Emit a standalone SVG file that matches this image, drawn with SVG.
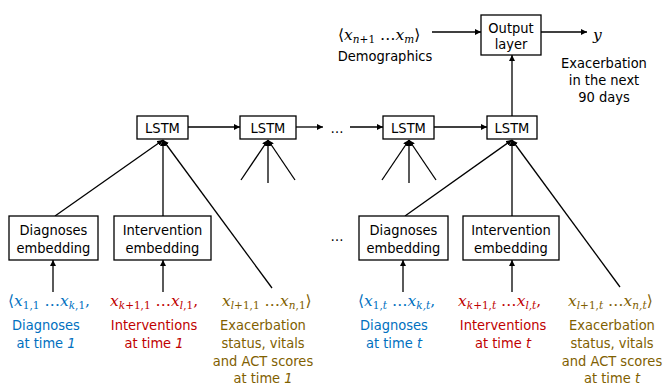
<svg xmlns="http://www.w3.org/2000/svg" width="668" height="386" viewBox="0 0 668 386">
<defs>
<marker id="ah" viewBox="0 0 10 10" refX="10" refY="5" markerWidth="6" markerHeight="6" markerUnits="userSpaceOnUse" orient="auto">
<path d="M0,0 L10,5 L0,10 z" fill="#000"/>
</marker>
<style>
.box{fill:#fff;stroke:#000;stroke-width:1.3}
.lbl{font-family:"DejaVu Sans Condensed","DejaVu Sans",sans-serif;font-stretch:condensed;font-size:14.5px;fill:#000;text-anchor:middle}
.t{font-family:"DejaVu Sans Condensed","DejaVu Sans",sans-serif;font-stretch:condensed;font-size:14.5px;text-anchor:middle}
.m{font-family:"DejaVu Serif","Liberation Serif",serif;font-size:15.5px}
.mi{font-style:italic}
.s{font-size:10.5px}
.edge{stroke:#000;stroke-width:1.3;fill:none}
.blue{fill:#0070C0}
.red{fill:#C00000}
.gold{fill:#7F6000}
</style>
</defs>
<g id="connectors">
<line class="edge" x1="188" y1="127" x2="240" y2="127" marker-end="url(#ah)"/>
<line class="edge" x1="296" y1="127" x2="323" y2="127" marker-end="url(#ah)"/>
<line class="edge" x1="350" y1="127" x2="383" y2="127" marker-end="url(#ah)"/>
<line class="edge" x1="434" y1="127" x2="487" y2="127" marker-end="url(#ah)"/>
<line class="edge" x1="512" y1="116" x2="512" y2="55" marker-end="url(#ah)"/>
<line class="edge" x1="432" y1="32" x2="481" y2="32" marker-end="url(#ah)"/>
<line class="edge" x1="541" y1="32" x2="587" y2="32" marker-end="url(#ah)"/>
<line class="edge" x1="55" y1="216" x2="163" y2="140" marker-end="url(#ah)"/>
<line class="edge" x1="163" y1="216" x2="163" y2="140" marker-end="url(#ah)"/>
<line class="edge" x1="272" y1="288" x2="163" y2="140" marker-end="url(#ah)"/>
<line class="edge" x1="241" y1="180" x2="268" y2="140" marker-end="url(#ah)"/>
<line class="edge" x1="268" y1="183" x2="268" y2="140" marker-end="url(#ah)"/>
<line class="edge" x1="295" y1="180" x2="268" y2="140" marker-end="url(#ah)"/>
<line class="edge" x1="382" y1="180" x2="409" y2="140" marker-end="url(#ah)"/>
<line class="edge" x1="409" y1="183" x2="409" y2="140" marker-end="url(#ah)"/>
<line class="edge" x1="436" y1="180" x2="409" y2="140" marker-end="url(#ah)"/>
<line class="edge" x1="405" y1="216" x2="512" y2="140" marker-end="url(#ah)"/>
<line class="edge" x1="512" y1="216" x2="512" y2="140" marker-end="url(#ah)"/>
<line class="edge" x1="620" y1="287" x2="512" y2="140" marker-end="url(#ah)"/>
<line class="edge" x1="53" y1="292" x2="53" y2="260" marker-end="url(#ah)"/>
<line class="edge" x1="163" y1="292" x2="163" y2="260" marker-end="url(#ah)"/>
<line class="edge" x1="403" y1="292" x2="403" y2="260" marker-end="url(#ah)"/>
<line class="edge" x1="512" y1="292" x2="512" y2="260" marker-end="url(#ah)"/>
</g>
<g id="lstm1"><rect class="box" x="137" y="116" width="51" height="23"/><text class="lbl" x="162.5" y="133">LSTM</text></g>
<g id="lstm2"><rect class="box" x="240" y="116" width="56" height="23"/><text class="lbl" x="268" y="133">LSTM</text></g>
<g id="lstm3"><rect class="box" x="383" y="116" width="51" height="23"/><text class="lbl" x="408.5" y="133">LSTM</text></g>
<g id="lstm4"><rect class="box" x="487" y="116" width="50" height="23"/><text class="lbl" x="512" y="133">LSTM</text></g>
<g id="dots1"><text class="lbl" x="337" y="133">…</text></g>
<g id="dots2"><text class="lbl" x="337" y="241">…</text></g>
<g id="output"><rect class="box" x="481" y="15" width="60" height="40"/><text class="lbl" x="511" y="33">Output</text><text class="lbl" x="511" y="49">layer</text></g>
<g id="diag1"><rect class="box" x="9" y="216" width="89" height="44"/><text class="lbl" x="53.5" y="235">Diagnoses</text><text class="lbl" x="53.5" y="253">embedding</text></g>
<g id="int1"><rect class="box" x="114" y="216" width="97" height="44"/><text class="lbl" x="162.5" y="235">Intervention</text><text class="lbl" x="162.5" y="253">embedding</text></g>
<g id="diagt"><rect class="box" x="359" y="216" width="89" height="44"/><text class="lbl" x="403.5" y="235">Diagnoses</text><text class="lbl" x="403.5" y="253">embedding</text></g>
<g id="intt"><rect class="box" x="463" y="216" width="96" height="44"/><text class="lbl" x="511" y="235">Intervention</text><text class="lbl" x="511" y="253">embedding</text></g>
<g id="demographics">
<text class="m" x="338" y="40">⟨<tspan class="mi">x</tspan><tspan class="s" dy="3"><tspan class="mi">n</tspan>+1</tspan><tspan dy="-3"> …</tspan><tspan class="mi">x</tspan><tspan class="s mi" dy="3">m</tspan><tspan dy="-3">⟩</tspan></text>
<text class="lbl" x="385" y="61">Demographics</text>
</g>
<g id="y-out">
<text class="m mi" x="593" y="40">y</text>
<text class="lbl" x="604" y="68">Exacerbation</text>
<text class="lbl" x="604" y="85">in the next</text>
<text class="lbl" x="604" y="102">90 days</text>
</g>
<g id="in-diag1">
<text class="m blue" x="8" y="306">⟨<tspan class="mi">x</tspan><tspan class="s" dy="3">1,1</tspan><tspan dy="-3"> …</tspan><tspan class="mi">x</tspan><tspan class="s" dy="3"><tspan class="mi">k</tspan>,1</tspan><tspan dy="-3">,</tspan></text>
<text class="t blue" x="46" y="330">Diagnoses</text>
<text class="t blue" x="46" y="348">at time <tspan class="mi">1</tspan></text>
</g>
<g id="in-int1">
<text class="m red" x="110" y="306"><tspan class="mi">x</tspan><tspan class="s" dy="3"><tspan class="mi">k</tspan>+1,1</tspan><tspan dy="-3"> …</tspan><tspan class="mi">x</tspan><tspan class="s" dy="3"><tspan class="mi">l</tspan>,1</tspan><tspan dy="-3">,</tspan></text>
<text class="t red" x="154" y="330">Interventions</text>
<text class="t red" x="154" y="348">at time <tspan class="mi">1</tspan></text>
</g>
<g id="in-ex1">
<text class="m gold" x="222" y="306"><tspan class="mi">x</tspan><tspan class="s" dy="3"><tspan class="mi">l</tspan>+1,1</tspan><tspan dy="-3"> …</tspan><tspan class="mi">x</tspan><tspan class="s" dy="3"><tspan class="mi">n</tspan>,1</tspan><tspan dy="-3">⟩</tspan></text>
<text class="t gold" x="263" y="330">Exacerbation</text>
<text class="t gold" x="263" y="348">status, vitals</text>
<text class="t gold" x="263" y="366">and ACT scores</text>
<text class="t gold" x="263" y="383">at time <tspan class="mi">1</tspan></text>
</g>
<g id="in-diagt">
<text class="m blue" x="358" y="306">⟨<tspan class="mi">x</tspan><tspan class="s" dy="3">1,<tspan class="mi">t</tspan></tspan><tspan dy="-3"> …</tspan><tspan class="mi">x</tspan><tspan class="s mi" dy="3">k,t</tspan><tspan dy="-3">,</tspan></text>
<text class="t blue" x="394" y="330">Diagnoses</text>
<text class="t blue" x="394" y="348">at time <tspan class="mi">t</tspan></text>
</g>
<g id="in-intt">
<text class="m red" x="458" y="306"><tspan class="mi">x</tspan><tspan class="s" dy="3"><tspan class="mi">k</tspan>+1,<tspan class="mi">t</tspan></tspan><tspan dy="-3"> …</tspan><tspan class="mi">x</tspan><tspan class="s mi" dy="3">l,t</tspan><tspan dy="-3">,</tspan></text>
<text class="t red" x="503" y="330">Interventions</text>
<text class="t red" x="503" y="348">at time <tspan class="mi">t</tspan></text>
</g>
<g id="in-ext">
<text class="m gold" x="568" y="306"><tspan class="mi">x</tspan><tspan class="s" dy="3"><tspan class="mi">l</tspan>+1,<tspan class="mi">t</tspan></tspan><tspan dy="-3"> …</tspan><tspan class="mi">x</tspan><tspan class="s mi" dy="3">n,t</tspan><tspan dy="-3">⟩</tspan></text>
<text class="t gold" x="612" y="330">Exacerbation</text>
<text class="t gold" x="612" y="348">status, vitals</text>
<text class="t gold" x="612" y="366">and ACT scores</text>
<text class="t gold" x="612" y="383">at time <tspan class="mi">t</tspan></text>
</g>
</svg>
